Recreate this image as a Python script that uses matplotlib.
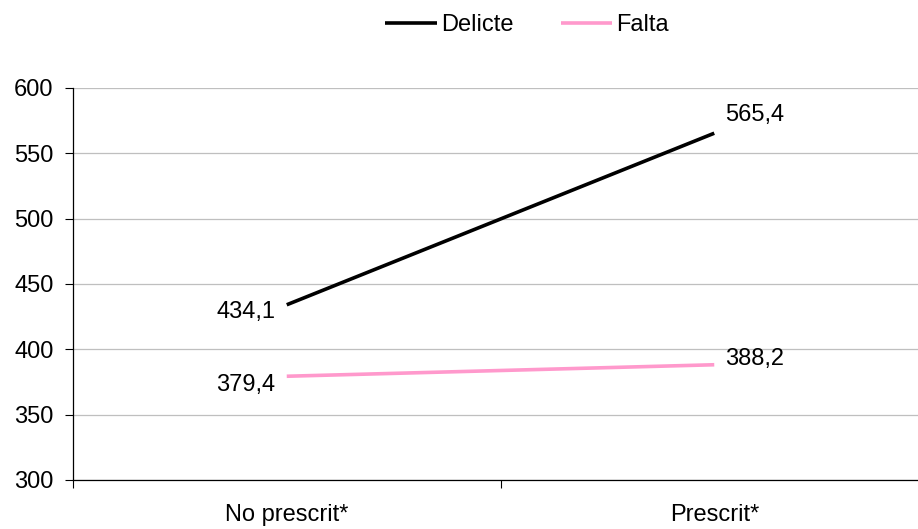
import matplotlib
matplotlib.use("Agg")
from matplotlib import pyplot as plt

# Data
categories = ["No prescrit*", "Prescrit*"]
delicte = [434.1, 565.4]
falta = [379.4, 388.2]
series_names = ["Delicte", "Falta"]
yticks = [300, 350, 400, 450, 500, 550, 600]

FS = 17

plt.rcParams['font.family'] = ['Liberation Sans', 'DejaVu Sans']

fig = plt.figure(figsize=(9.18, 5.29), dpi=100)
# axis runs a little past the right edge, like the original
ax = fig.add_axes([73 / 918, (529 - 480) / 529, 855 / 918, 392 / 529])

x = list(range(len(categories)))
ax.plot(x, delicte, color='black', lw=2.6, label=series_names[0], solid_capstyle='butt')
ax.plot(x, falta, color='#FF99CC', lw=2.6, label=series_names[1], solid_capstyle='butt')

ax.set_xlim(-0.5, 1.5)
ax.set_ylim(300, 600)
ax.set_yticks(yticks)
ax.set_yticklabels([str(v) for v in yticks])
ax.set_xticks([-0.5, 0.5, 1.5])
ax.set_xticklabels([])
ax.set_xticks(x, minor=True)
ax.set_xticklabels(categories, minor=True)
ax.tick_params(axis='x', which='minor', length=0, pad=17, labelsize=FS)
ax.tick_params(axis='x', which='major', length=6, width=0.8, direction='out')
ax.tick_params(axis='y', length=6, width=0.8, direction='out', labelsize=FS, pad=8)

ax.grid(axis='y', color='#BFBFBF', lw=0.9)
ax.set_axisbelow(True)
for side in ['top', 'right']:
    ax.spines[side].set_visible(False)
ax.spines['left'].set_linewidth(0.9)
ax.spines['bottom'].set_linewidth(0.9)

def fmt(v):
    return ("%.1f" % v).replace(".", ",")

# data labels
ax.annotate(fmt(delicte[0]), (x[0], delicte[0]), xytext=(-8, -5), textcoords='offset points',
            ha='right', va='center', fontsize=FS)
ax.annotate(fmt(falta[0]), (x[0], falta[0]), xytext=(-8, -6), textcoords='offset points',
            ha='right', va='center', fontsize=FS)
ax.annotate(fmt(delicte[1]), (x[1], delicte[1]), xytext=(8, 13), textcoords='offset points',
            ha='left', va='center', fontsize=FS)
ax.annotate(fmt(falta[1]), (x[1], falta[1]), xytext=(8, 4), textcoords='offset points',
            ha='left', va='center', fontsize=FS)

fig.legend(loc='center', bbox_to_anchor=(527 / 918, 1 - 25 / 529), ncol=2, frameon=False,
           fontsize=FS, handlelength=2.2, handletextpad=0.15, columnspacing=2.0)

fig.savefig("out.png", dpi=100)
